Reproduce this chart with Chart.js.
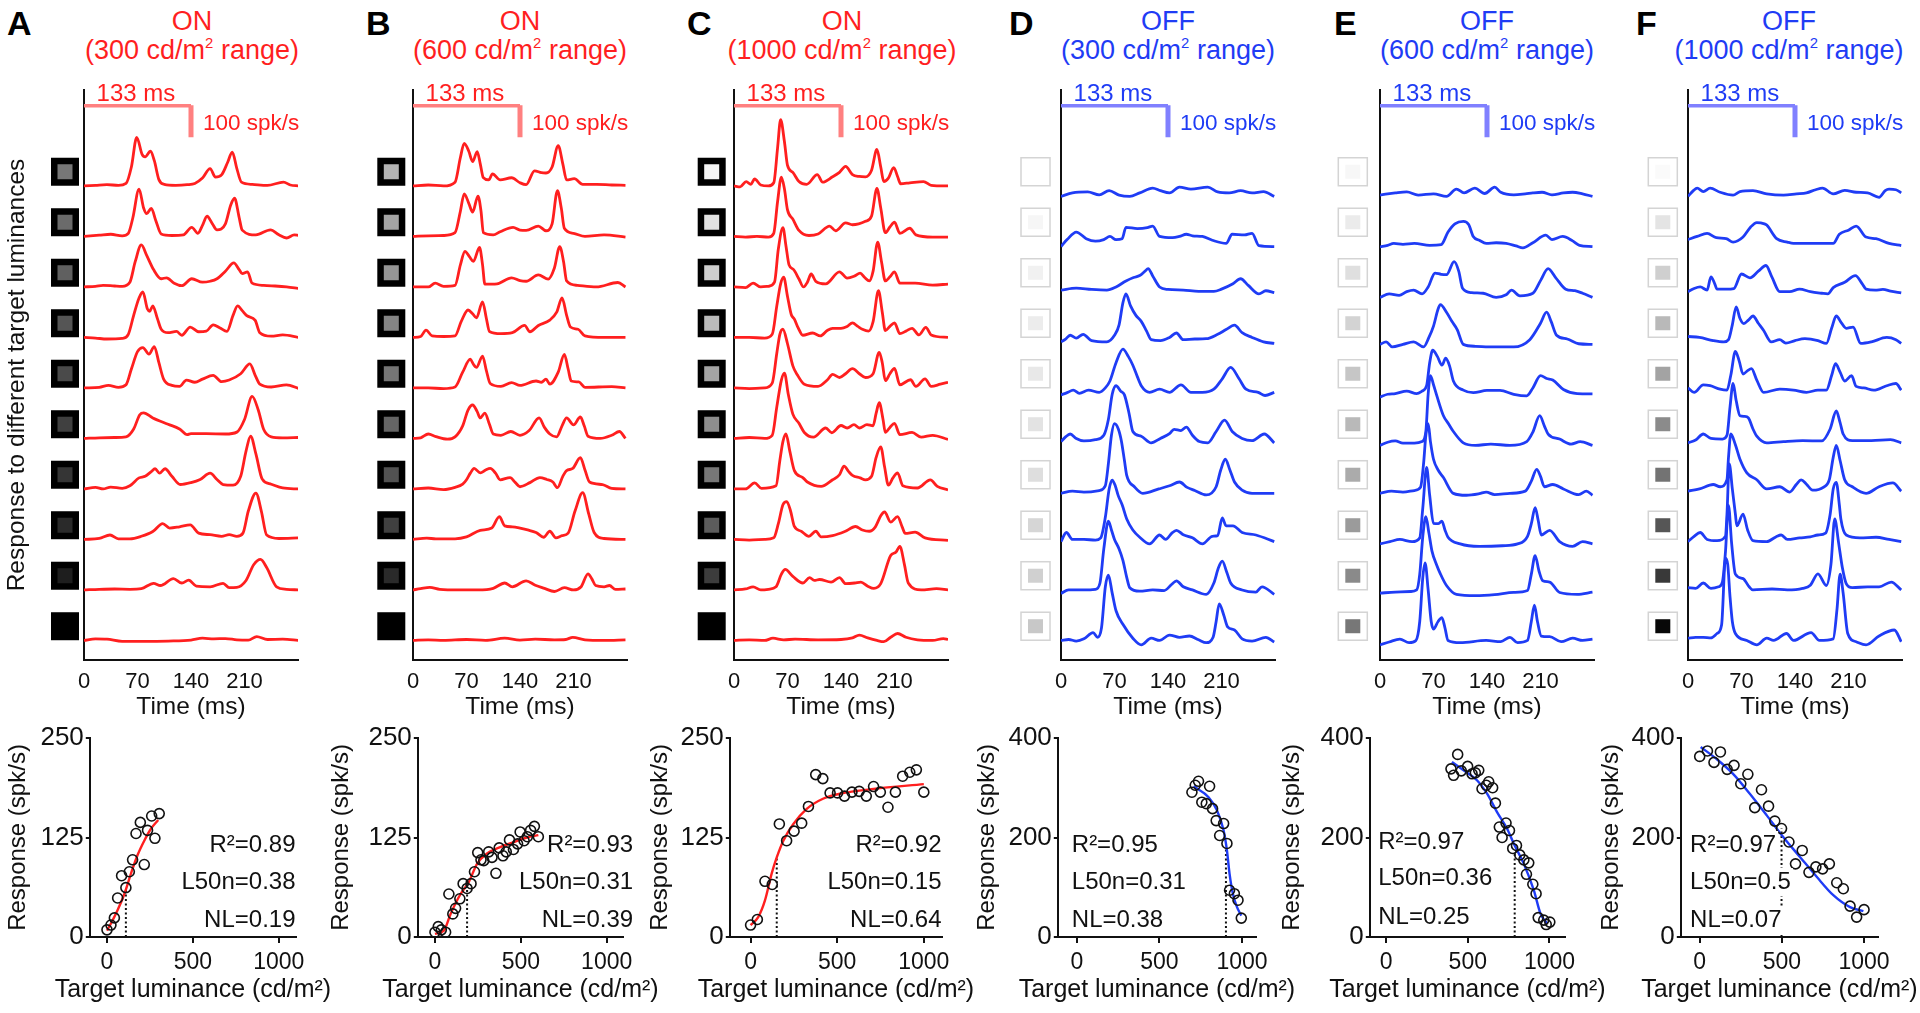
<!DOCTYPE html>
<html>
<head>
<meta charset="utf-8">
<script src="https://cdn.jsdelivr.net/npm/chart.js@4.4.1/dist/chart.umd.min.js"></script>
<style>
  body { margin: 0; background: #fff; width: 1920px; height: 1013px; overflow: hidden; position: relative;
         font-family: "Liberation Sans", Arial, sans-serif; }
  canvas { position: absolute; }
  .hd { position: absolute; white-space: nowrap; transform: translate(-50%, -50%); font-size: 27px; line-height: 32px; }
  .hd sup { font-size: 55%; vertical-align: 0; position: relative; top: -0.75em; }
  .let { position: absolute; font-weight: bold; font-size: 34px; line-height: 34px; transform: translate(0, -50%); color: #000; }
</style>
</head>
<body>
<script>
// ---------------- data ----------------
const timeTicks = [0, 70, 140, 210];
const lumTicks = [0, 500, 1000];
const onTicks = [0, 125, 250];
const offTicks = [0, 200, 400];

// PSTH traces, [time ms, spk/s], top row first
const tracesA = [
  [[0,0],[15,2],[30,4],[45,2],[55,8],[62,60],[69,154],[76,100],[80,92],[87,110],[92,80],[98,20],[105,5],[120,2],[135,4],[145,8],[155,25],[165,55],[172,28],[180,35],[188,75],[194,107],[200,55],[206,12],[220,5],[240,2],[261,12],[270,3],[281,0]],
  [[0,0],[20,4],[35,7],[50,2],[58,10],[64,60],[72,150],[78,90],[82,72],[88,89],[94,50],[101,8],[115,3],[130,5],[141,29],[149,10],[155,35],[161,64],[168,40],[174,21],[185,40],[192,100],[197,121],[203,60],[207,20],[225,5],[244,21],[255,5],[265,-5],[275,5],[281,3]],
  [[0,0],[15,2],[25,5],[40,3],[50,2],[60,15],[67,80],[75,133],[82,100],[91,55],[101,26],[108,29],[118,12],[128,4],[141,26],[155,15],[165,18],[174,26],[185,50],[196,76],[203,55],[207,42],[214,48],[220,12],[235,5],[250,3],[265,0],[281,-5]],
  [[0,0],[15,-2],[30,-5],[50,-3],[58,10],[65,70],[72,125],[77,144],[83,90],[86,83],[90,100],[96,60],[101,26],[110,15],[121,19],[128,7],[139,33],[150,18],[160,20],[169,40],[178,30],[187,19],[195,70],[201,100],[207,85],[213,69],[224,54],[230,15],[245,4],[260,8],[281,0]],
  [[0,0],[20,2],[32,8],[45,2],[55,10],[62,60],[70,115],[77,128],[85,107],[92,131],[98,80],[104,29],[115,8],[125,5],[134,25],[145,18],[155,28],[169,40],[180,20],[190,25],[205,45],[217,76],[224,40],[230,12],[245,3],[265,10],[281,-2]],
  [[0,0],[20,2],[40,3],[55,5],[65,30],[73,75],[78,81],[90,65],[110,45],[125,30],[135,12],[140,15],[160,15],[185,14],[200,20],[210,60],[220,133],[228,90],[235,29],[245,5],[260,2],[281,3]],
  [[0,0],[15,5],[25,0],[35,6],[50,2],[60,10],[72,35],[80,40],[88,55],[93,64],[99,50],[106,64],[115,40],[126,14],[140,20],[152,30],[165,50],[174,30],[182,14],[195,12],[205,40],[212,120],[218,167],[225,110],[233,32],[245,15],[260,3],[281,0]],
  [[0,0],[20,3],[34,14],[45,2],[60,2],[75,10],[90,25],[103,50],[112,36],[125,40],[139,46],[150,20],[165,15],[180,10],[190,15],[200,10],[208,20],[215,90],[225,147],[232,90],[239,14],[255,3],[281,5]],
  [[0,0],[20,2],[40,3],[60,2],[75,4],[91,21],[100,14],[117,36],[128,22],[137,31],[147,12],[165,10],[182,21],[190,7],[200,8],[212,30],[222,80],[231,97],[239,71],[252,10],[265,2],[281,0]],
  [[0,0],[15,5],[30,4],[50,-3],[80,-3],[110,-2],[140,1],[155,7],[170,5],[185,6],[200,2],[215,1],[226,12],[240,3],[260,4],[281,0]]
];
const tracesB = [
  [[0,0],[20,3],[40,0],[55,12],[62,90],[67,135],[73,110],[78,77],[84,109],[88,70],[92,26],[99,19],[104,38],[114,19],[129,26],[140,10],[148,4],[159,48],[168,42],[174,41],[182,60],[190,128],[196,70],[201,19],[211,23],[222,5],[240,5],[260,3],[278,2]],
  [[0,0],[20,2],[40,3],[55,12],[62,80],[67,135],[73,105],[78,77],[85,128],[89,80],[92,12],[105,5],[114,15],[131,29],[140,20],[148,19],[164,33],[174,18],[182,40],[189,145],[194,90],[198,26],[210,10],[225,0],[250,5],[278,-2]],
  [[0,0],[20,0],[29,12],[40,2],[55,5],[62,70],[68,113],[74,95],[79,81],[87,125],[91,70],[94,9],[110,10],[129,29],[140,20],[148,18],[164,38],[177,25],[185,60],[192,128],[197,80],[201,19],[215,5],[240,0],[268,14],[278,0]],
  [[0,0],[10,3],[17,23],[25,5],[40,3],[55,5],[63,50],[72,87],[78,75],[83,62],[91,113],[96,60],[100,19],[115,12],[130,15],[146,38],[153,18],[164,38],[179,55],[188,80],[195,125],[201,70],[206,33],[216,26],[225,5],[250,0],[278,0]],
  [[0,0],[20,0],[40,-2],[55,3],[65,50],[75,91],[79,75],[83,65],[91,101],[96,55],[101,14],[115,5],[129,17],[140,8],[161,22],[168,18],[174,28],[179,12],[190,50],[198,106],[203,60],[207,22],[217,19],[225,2],[260,4],[278,0]],
  [[0,0],[10,2],[20,14],[30,6],[45,-2],[55,5],[65,40],[72,90],[78,106],[84,85],[88,65],[94,80],[100,45],[105,14],[115,10],[128,22],[140,10],[152,25],[165,65],[172,35],[179,14],[188,5],[195,40],[201,65],[210,43],[219,68],[224,40],[229,7],[245,0],[260,10],[270,22],[278,0]],
  [[0,0],[20,3],[40,-2],[55,5],[65,15],[70,29],[75,50],[80,65],[88,51],[95,60],[101,65],[108,50],[114,29],[127,36],[134,20],[140,7],[153,20],[166,36],[175,30],[183,22],[189,4],[196,40],[201,58],[209,65],[219,99],[225,60],[231,22],[248,14],[260,2],[278,0]],
  [[0,0],[18,4],[30,2],[55,2],[70,8],[88,29],[103,36],[113,72],[120,43],[130,40],[140,36],[150,30],[161,22],[171,7],[179,26],[187,5],[195,12],[203,20],[212,90],[222,148],[230,80],[237,22],[250,3],[278,0]],
  [[0,0],[10,4],[22,8],[35,2],[60,0],[85,0],[105,5],[120,22],[130,10],[148,29],[160,15],[172,5],[185,-5],[198,7],[210,0],[220,10],[229,51],[234,35],[239,14],[250,10],[257,14],[265,2],[278,3]],
  [[0,0],[20,2],[40,0],[70,3],[95,0],[120,7],[140,1],[160,4],[185,2],[200,3],[209,10],[225,2],[250,0],[278,2]]
];
const tracesC = [
  [[0,0],[8,-3],[16,14],[22,5],[27,22],[35,3],[45,0],[52,10],[57,120],[61,210],[66,140],[70,65],[77,43],[85,14],[95,5],[109,36],[116,12],[129,29],[138,43],[146,62],[155,36],[164,30],[172,29],[180,50],[187,116],[192,60],[196,14],[202,25],[209,58],[214,30],[218,7],[230,10],[248,14],[258,2],[280,0]],
  [[0,0],[15,-2],[30,0],[45,-2],[52,10],[57,110],[62,188],[66,150],[70,84],[77,55],[85,19],[98,3],[110,8],[125,33],[133,18],[146,43],[155,37],[172,48],[180,65],[187,152],[192,90],[198,12],[204,30],[210,45],[217,10],[230,26],[238,5],[260,-2],[280,-2]],
  [[0,0],[15,-2],[25,12],[35,0],[45,2],[53,15],[58,120],[64,188],[68,130],[72,70],[78,55],[85,25],[91,0],[96,15],[101,41],[107,18],[120,10],[138,48],[148,28],[158,35],[165,44],[171,30],[177,19],[182,50],[188,142],[193,80],[198,19],[204,32],[210,48],[217,12],[237,12],[260,6],[280,9]],
  [[0,0],[20,0],[40,-2],[50,10],[56,100],[61,170],[65,191],[70,130],[75,72],[79,58],[84,30],[90,7],[103,14],[113,5],[122,22],[129,29],[140,29],[148,35],[155,46],[162,35],[168,26],[176,20],[182,50],[189,148],[194,80],[198,22],[204,35],[210,46],[217,12],[225,20],[233,29],[242,8],[251,32],[258,8],[280,0]],
  [[0,0],[20,-2],[40,0],[50,15],[56,110],[60,170],[64,186],[70,140],[77,70],[83,41],[92,12],[110,5],[122,25],[129,43],[138,33],[146,45],[155,61],[164,45],[172,33],[182,45],[190,113],[194,80],[198,23],[204,45],[210,62],[217,10],[231,26],[238,5],[250,29],[258,5],[270,12],[280,18]],
  [[0,0],[20,3],[40,0],[50,10],[56,100],[62,185],[66,207],[71,140],[77,77],[85,48],[92,19],[104,4],[120,33],[128,18],[140,41],[148,33],[157,44],[164,33],[174,44],[182,40],[186,80],[190,113],[195,60],[198,19],[204,35],[210,48],[217,12],[233,19],[245,4],[260,10],[280,-3]],
  [[0,0],[15,0],[27,19],[36,2],[55,10],[60,90],[64,150],[68,174],[73,120],[79,58],[90,36],[96,22],[114,8],[129,29],[138,45],[144,72],[150,55],[155,43],[165,35],[172,29],[180,40],[186,100],[192,133],[197,70],[202,12],[208,35],[214,51],[221,10],[240,3],[257,29],[266,8],[280,-3]],
  [[0,0],[20,-2],[40,0],[52,5],[58,50],[64,110],[69,120],[74,90],[79,41],[88,26],[98,10],[107,26],[114,8],[129,12],[145,25],[159,41],[168,30],[177,26],[185,40],[192,75],[197,87],[205,55],[214,72],[220,40],[224,19],[237,23],[250,5],[280,-3]],
  [[0,0],[15,3],[25,10],[35,0],[45,2],[55,10],[62,50],[67,65],[77,43],[90,22],[99,39],[105,30],[112,33],[127,25],[138,39],[146,20],[158,22],[166,25],[175,12],[183,5],[192,20],[205,109],[212,120],[217,138],[223,80],[228,22],[245,0],[265,4],[280,0]],
  [[0,0],[20,2],[40,0],[51,7],[65,2],[80,4],[110,2],[140,3],[155,8],[164,17],[175,8],[187,0],[196,-4],[205,10],[214,22],[225,10],[240,2],[260,0],[274,6],[280,3]]
];
const tracesD = [
  [[0,-33],[15,-22],[35,-19],[50,-28],[63,-15],[76,-29],[90,-33],[103,-22],[120,-7],[130,-15],[142,-22],[155,-4],[170,-10],[192,-4],[205,-19],[220,-22],[235,-15],[250,-22],[265,-18],[279,-33]],
  [[0,-32],[8,-10],[20,14],[33,-7],[45,-15],[56,-10],[64,0],[72,-10],[80,-7],[85,29],[100,25],[113,28],[120,33],[129,0],[146,-4],[155,0],[164,7],[172,2],[185,0],[198,-12],[216,-22],[224,7],[240,5],[250,10],[259,-29],[279,-32]],
  [[0,-10],[20,-4],[40,-8],[60,-10],[72,0],[85,19],[95,30],[103,36],[110,50],[114,58],[120,35],[129,0],[140,-8],[160,-10],[180,-14],[200,-14],[210,-7],[225,10],[235,26],[245,5],[259,-22],[268,-12],[279,-18]],
  [[0,-14],[6,-5],[12,7],[20,-2],[29,10],[40,-10],[60,-14],[70,7],[76,40],[81,110],[85,138],[91,100],[98,70],[105,51],[112,20],[118,-7],[130,-10],[142,0],[151,14],[160,-7],[175,-5],[190,-4],[205,10],[216,25],[227,39],[237,15],[250,0],[265,-14],[279,-19]],
  [[0,-22],[8,-15],[16,-7],[24,-17],[36,-7],[50,-14],[58,0],[64,22],[72,80],[81,123],[88,100],[94,72],[100,35],[105,7],[116,-14],[129,-4],[142,-14],[157,10],[170,-14],[185,-14],[200,-4],[211,29],[222,65],[233,29],[242,-4],[258,-14],[267,-24],[279,-14]],
  [[0,-10],[6,5],[12,14],[20,0],[30,-8],[45,-4],[56,10],[62,60],[67,140],[72,167],[78,150],[83,138],[89,80],[94,22],[105,7],[118,-14],[130,0],[142,15],[148,29],[157,25],[164,36],[172,10],[181,-10],[192,-14],[203,22],[214,58],[224,22],[237,0],[250,-7],[266,14],[279,-14]],
  [[0,-14],[15,-7],[30,-10],[50,-5],[58,10],[62,80],[66,170],[70,207],[75,190],[79,152],[83,90],[86,43],[96,7],[107,-14],[128,0],[142,10],[155,22],[165,5],[175,-5],[190,-19],[203,7],[209,60],[215,94],[221,60],[227,22],[237,-4],[250,-14],[279,-14]],
  [[0,-7],[7,22],[15,0],[30,0],[45,-2],[52,5],[58,70],[63,160],[67,188],[71,170],[75,138],[80,110],[86,65],[94,30],[103,7],[116,-14],[129,14],[137,0],[145,20],[151,29],[160,15],[172,5],[185,-14],[198,10],[205,12],[211,68],[216,43],[225,43],[237,22],[255,14],[279,-7]],
  [[0,-11],[10,0],[30,0],[45,2],[51,22],[56,130],[62,218],[66,190],[70,160],[76,130],[81,94],[86,40],[90,7],[103,-4],[120,0],[135,-2],[145,18],[151,29],[160,10],[172,0],[190,-14],[200,22],[206,70],[211,91],[217,55],[222,22],[237,0],[255,-7],[263,10],[279,-14]],
  [[0,0],[10,3],[20,-2],[30,5],[42,25],[48,10],[53,40],[58,170],[62,207],[67,150],[72,94],[81,51],[94,7],[105,-14],[118,7],[129,0],[142,17],[155,10],[168,14],[180,2],[190,-7],[199,10],[203,60],[207,116],[213,80],[218,43],[227,33],[237,5],[250,-2],[268,10],[279,-5]]
];
const tracesE = [
  [[0,-29],[10,-25],[20,-22],[35,-19],[50,-29],[70,-25],[87,-33],[100,-10],[110,-22],[124,-7],[137,-24],[150,-4],[158,-20],[175,-28],[190,-25],[200,-22],[212,-20],[225,-28],[240,-22],[252,-20],[265,-25],[278,-33]],
  [[0,-33],[10,-28],[18,-22],[30,-25],[45,-22],[65,-28],[80,-26],[89,14],[98,40],[109,48],[116,38],[122,0],[130,-12],[139,-22],[152,-20],[165,-22],[178,-30],[187,-36],[200,-20],[217,4],[225,-10],[239,0],[252,-14],[261,-28],[278,-32]],
  [[0,-33],[12,-22],[25,-27],[35,-15],[44,-10],[55,-22],[63,0],[72,44],[80,40],[87,39],[97,80],[103,50],[108,-4],[120,-18],[135,-20],[152,-33],[165,-25],[172,-10],[183,-28],[200,-20],[210,20],[220,58],[230,29],[243,-7],[255,-12],[265,-20],[278,-33]],
  [[0,-22],[8,-14],[16,-30],[30,-22],[44,-14],[57,-30],[64,0],[70,36],[76,90],[79,104],[87,80],[94,51],[101,25],[109,-22],[125,-28],[150,-30],[175,-30],[196,-7],[210,45],[218,80],[224,50],[231,7],[245,-5],[260,-20],[278,-22]],
  [[0,-29],[10,-20],[20,-18],[35,-10],[48,-18],[55,-10],[61,7],[65,80],[69,120],[75,100],[81,72],[86,94],[91,70],[96,22],[109,-7],[122,-15],[140,-8],[157,-8],[175,-20],[192,-25],[200,0],[210,39],[218,30],[226,25],[240,-5],[258,-18],[278,-19]],
  [[0,-22],[10,-12],[20,-8],[30,-15],[45,-15],[55,-10],[60,22],[63,140],[66,199],[70,170],[74,138],[83,72],[90,45],[96,22],[109,-14],[125,-22],[145,-18],[170,-22],[192,-10],[200,20],[209,72],[215,40],[220,14],[235,-2],[250,-18],[262,-10],[278,-22]],
  [[0,-14],[15,-7],[30,-10],[45,-5],[53,5],[57,80],[60,170],[63,207],[66,150],[70,94],[76,60],[83,36],[96,-14],[113,-20],[130,-15],[139,-10],[150,-18],[170,-14],[190,-7],[198,25],[205,62],[210,40],[215,7],[226,14],[240,0],[260,-18],[270,-7],[278,-20]],
  [[0,-14],[13,-7],[26,0],[42,-7],[52,5],[56,100],[61,228],[65,140],[70,51],[76,50],[81,58],[85,30],[89,7],[105,-14],[130,-22],[160,-20],[180,-14],[193,10],[198,50],[203,101],[207,60],[211,14],[222,29],[235,-7],[252,-22],[265,-7],[278,-14]],
  [[0,-10],[20,-7],[40,-5],[48,0],[52,50],[56,170],[60,232],[64,180],[68,123],[74,80],[79,51],[87,14],[100,-14],[125,-18],[150,-15],[175,-8],[193,-2],[198,50],[203,109],[208,60],[213,29],[222,25],[235,-8],[258,-14],[278,-7]],
  [[0,-14],[12,-5],[26,4],[38,-7],[47,0],[52,60],[56,200],[59,246],[63,160],[67,60],[70,36],[76,60],[81,72],[85,40],[89,0],[105,-7],[139,0],[158,-4],[170,10],[180,-7],[193,0],[198,60],[202,112],[206,60],[211,14],[222,12],[237,-4],[252,7],[265,0],[278,4]]
];
const tracesF = [
  [[0,-33],[7,-15],[12,-7],[20,-18],[29,-7],[42,-20],[59,-29],[68,-18],[85,-15],[103,-25],[125,-29],[142,-25],[155,-22],[167,-12],[176,-7],[190,-25],[205,-14],[220,-20],[235,-22],[250,-36],[258,-15],[263,-10],[272,-12],[279,-22]],
  [[0,-10],[12,0],[25,10],[37,-4],[50,-7],[59,-18],[72,-2],[82,30],[90,44],[100,40],[103,36],[116,-7],[130,-18],[138,-22],[165,-22],[190,-22],[198,7],[210,20],[220,33],[233,-2],[246,-7],[263,-22],[279,-29]],
  [[0,-15],[8,-5],[16,0],[25,-10],[30,32],[35,10],[38,-7],[50,-7],[60,-5],[70,41],[81,29],[92,50],[102,68],[110,30],[120,-15],[133,-15],[146,-7],[160,-15],[175,-20],[183,-22],[190,-2],[205,15],[219,36],[228,10],[233,-7],[245,-10],[255,-8],[265,-13],[279,-19]],
  [[0,3],[15,0],[33,-10],[47,-14],[53,-7],[58,40],[63,97],[68,60],[73,44],[79,55],[85,68],[92,45],[99,22],[109,-14],[120,-7],[128,-18],[140,-10],[153,-4],[170,-10],[181,-19],[188,30],[194,68],[201,45],[207,29],[216,33],[226,-19],[240,-14],[260,0],[272,-7],[279,-19]],
  [[0,0],[8,-14],[20,10],[29,7],[42,-4],[51,-7],[56,40],[62,116],[67,85],[72,44],[78,55],[83,61],[90,25],[99,-14],[120,-4],[138,-7],[155,-14],[170,-7],[181,-7],[188,40],[193,77],[199,50],[205,22],[214,39],[220,5],[230,0],[243,-7],[260,7],[272,14],[279,-7]],
  [[0,-14],[10,-5],[20,14],[30,0],[45,-2],[51,10],[55,100],[59,174],[63,120],[68,72],[74,70],[79,65],[85,30],[90,7],[103,-14],[125,-10],[150,-7],[175,-8],[186,30],[194,87],[199,50],[203,14],[215,-7],[240,-7],[265,-4],[279,-14]],
  [[0,-7],[15,0],[33,14],[42,7],[51,29],[53,100],[56,174],[62,140],[68,94],[77,51],[90,29],[103,0],[120,7],[133,-10],[142,15],[148,29],[155,15],[163,-4],[177,5],[185,30],[190,100],[194,138],[199,90],[205,29],[215,7],[233,-14],[250,7],[268,19],[279,-7]],
  [[0,-7],[8,10],[16,22],[25,0],[38,-4],[49,10],[51,80],[54,239],[58,160],[62,80],[64,43],[72,80],[78,30],[85,-4],[103,-7],[115,8],[122,14],[130,0],[146,5],[160,8],[170,14],[180,20],[186,80],[190,160],[194,181],[198,110],[200,65],[207,14],[225,5],[246,7],[263,0],[279,-7]],
  [[0,7],[10,5],[20,22],[30,5],[40,10],[45,25],[49,120],[53,268],[57,150],[62,50],[72,36],[80,10],[85,0],[110,3],[130,0],[150,5],[160,15],[170,51],[181,14],[187,80],[192,225],[197,150],[202,70],[207,20],[215,7],[235,10],[250,10],[266,25],[279,0]],
  [[0,7],[10,10],[20,10],[30,8],[38,22],[44,50],[49,261],[52,240],[55,138],[58,60],[62,22],[77,0],[90,-14],[103,7],[112,0],[129,22],[138,0],[161,25],[172,0],[190,5],[195,100],[199,210],[203,150],[209,22],[220,-4],[233,-14],[250,14],[270,33],[279,-4]]
];

// target luminance swatches (inner grey), top row first
const sqA = ['#777777','#6b6b6b','#606060','#555555','#4a4a4a','#404040','#353535','#2a2a2a','#1e1e1e','#000000'];
const sqB = ['#b4b4b4','#a4a4a4','#959595','#858585','#757575','#656565','#525252','#404040','#2a2a2a','#000000'];
const sqC = ['#f5f5f5','#e2e2e2','#cecece','#bababa','#a4a4a4','#8e8e8e','#777777','#5c5c5c','#3c3c3c','#000000'];
const sqD = ['#ffffff','#f6f6f6','#f1f1f1','#ececec','#e8e8e8','#e3e3e3','#dedede','#d6d6d6','#d0d0d0','#c8c8c8'];
const sqE = ['#f7f7f7','#ebebeb','#dfdfdf','#d3d3d3','#c6c6c6','#b9b9b9','#ababab','#9b9b9b','#8a8a8a','#777777'];
const sqF = ['#fafafa','#e4e4e4','#cfcfcf','#b9b9b9','#a3a3a3','#8b8b8b','#737373','#565656','#393939','#080808'];

// response vs target luminance
const lumA = [0,23,43,62,85,110,130,149,169,194,217,236,260,279,304];
const respA = [9,15,24,49,77,62,82,97,130,144,91,134,152,124,155];
const fitLumA = [0,23,62,101,140,178,217,256,298];
const fitRespA = [8,17,34,54,80,103,121,136,147];

const lumB = [0,19,37,62,81,104,120,145,164,187,210,230,249,268,284,313,332,355,374,396,415,434,457,481,496,519,538,557,579,602];
const respB = [6,13,9,6,54,29,36,48,67,61,67,82,106,97,96,107,100,80,112,102,107,122,110,117,132,121,126,134,139,126];
const fitLumB = [0,52,91,149,197,245,303,380,457,535,602];
const fitRespB = [4,8,29,54,69,92,105,113,119,125,128];

const lumC = [0,39,83,125,166,208,251,295,334,376,417,459,502,542,585,627,668,710,749,793,836,878,919,957,1000];
const respC = [15,22,70,66,142,121,133,143,164,204,199,181,181,177,182,183,177,189,182,163,182,202,207,210,182];
const fitLumC = [0,44,83,122,151,189,247,324,421,517,710,1000];
const fitRespC = [15,25,46,80,100,121,142,161,174,180,186,192];

const lumD = [697,717,737,804,757,784,822,844,889,865,909,925,954,976,996];
const respD = [291,305,313,303,271,268,258,234,228,204,188,94,87,74,38];
const fitLumD = [707,798,848,889,909,925,945,970,996];
const fitRespD = [303,281,255,214,174,127,87,60,43];

const lumE = [397,438,413,460,499,526,546,567,587,613,628,652,669,693,710,734,755,775,798,818,843,873,859,898,918,931,965,980,1002];
const respE = [338,367,325,334,343,328,330,335,298,305,312,300,269,221,200,229,214,178,184,165,155,149,126,106,87,39,34,25,30];
const fitLumE = [403,474,556,618,679,740,781,843,904,945,986];
const fitRespE = [352,335,315,288,251,218,188,147,94,47,27];

const lumF = [0,47,87,126,167,209,250,293,335,376,419,457,498,543,583,624,665,707,748,789,834,874,915,955,1000];
const respF = [363,374,351,372,337,345,308,327,260,296,263,233,218,191,147,174,130,141,137,147,109,97,62,40,55];
const fitLumF = [6,102,203,305,407,508,610,712,813,915,996];
const fitRespF = [382,358,328,288,245,201,161,121,84,60,52];

// L50 marker [luminance, response]
const l50A = [110, 61], l50B = [187, 61], l50C = [151, 100];
const l50D = [903, 178], l50E = [787, 171], l50F = [498, 218];

const statsA = ['R²=0.89', 'L50n=0.38', 'NL=0.19'];
const statsB = ['R²=0.93', 'L50n=0.31', 'NL=0.39'];
const statsC = ['R²=0.92', 'L50n=0.15', 'NL=0.64'];
const statsD = ['R²=0.95', 'L50n=0.31', 'NL=0.38'];
const statsE = ['R²=0.97', 'L50n=0.36', 'NL=0.25'];
const statsF = ['R²=0.97', 'L50n=0.5', 'NL=0.07'];

// ---------------- layout / style ----------------
const RED = '#ff1f1f', RED_L = '#ff8080', BLUE = '#1f3cf5', BLUE_L = '#8080ff', INK = '#111';
const ROW = 160;            // vertical offset between stacked traces (spk/s)
const FONT = '"Liberation Sans", Arial, Helvetica, sans-serif';
Chart.defaults.font.family = FONT;
Chart.defaults.color = INK;

const panels = [
  { id: 'A', on: true, range: '300', letterX: 7, titleX: 192, topX: 84, sqDx: -33,
    traces: tracesA, sq: sqA, bx: 89.3, br: 295, xMin: -100, xMax: 1100, yOff: 71,
    lum: lumA, resp: respA, fitL: fitLumA, fitR: fitRespA, l50: l50A, stats: statsA, statX: 295, statAlign: 'right', statY: [845, 882, 920] },
  { id: 'B', on: true, range: '600', letterX: 366, titleX: 520, topX: 412.7, sqDx: -35.7,
    traces: tracesB, sq: sqB, bx: 417.7, br: 623.3, xMin: -100, xMax: 1095, yOff: 76,
    lum: lumB, resp: respB, fitL: fitLumB, fitR: fitRespB, l50: l50B, stats: statsB, statX: 633, statAlign: 'right', statY: [845, 882, 920] },
  { id: 'C', on: true, range: '1000', letterX: 687, titleX: 842, topX: 734.3, sqDx: -36.3,
    traces: tracesC, sq: sqC, bx: 730, br: 941.7, xMin: -120, xMax: 1105, yOff: 69,
    lum: lumC, resp: respC, fitL: fitLumC, fitR: fitRespC, l50: l50C, stats: statsC, statX: 941.7, statAlign: 'right', statY: [845, 882, 920] },
  { id: 'D', on: false, range: '300', letterX: 1009, titleX: 1168, topX: 1061, sqDx: -40,
    traces: tracesD, sq: sqD, bx: 1057.7, br: 1256, xMin: -115, xMax: 1085, yOff: 70,
    lum: lumD, resp: respD, fitL: fitLumD, fitR: fitRespD, l50: l50D, stats: statsD, statX: 1071.7, statAlign: 'left', statY: [845, 882, 920] },
  { id: 'E', on: false, range: '600', letterX: 1334, titleX: 1487, topX: 1379.7, sqDx: -41.7,
    traces: tracesE, sq: sqE, bx: 1369.3, br: 1564, xMin: -100, xMax: 1095, yOff: 77,
    lum: lumE, resp: respE, fitL: fitLumE, fitR: fitRespE, l50: l50E, stats: statsE, statX: 1377.7, statAlign: 'left', statY: [842, 878, 917] },
  { id: 'F', on: false, range: '1000', letterX: 1636, titleX: 1789, topX: 1687.7, sqDx: -39.7,
    traces: tracesF, sq: sqF, bx: 1680.7, br: 1878.3, xMin: -115, xMax: 1085, yOff: 69,
    lum: lumF, resp: respF, fitL: fitLumF, fitR: fitRespF, l50: l50F, stats: statsF, statX: 1690, statAlign: 'left', statY: [845, 882, 920], statBg: true }
];

function makeCanvas(left, top, w, h) {
  const c = document.createElement('canvas');
  c.width = Math.round(w); c.height = Math.round(h);
  c.style.left = left + 'px'; c.style.top = top + 'px';
  c.style.width = Math.round(w) + 'px'; c.style.height = Math.round(h) + 'px';
  document.body.appendChild(c);
  return c;
}

function addText(cls, html, x, y, color) {
  const d = document.createElement('div');
  d.className = cls; d.innerHTML = html;
  d.style.left = x + 'px'; d.style.top = y + 'px'; d.style.color = color;
  document.body.appendChild(d);
}

// ---------------- top panels: stacked PSTHs ----------------
function topChart(p) {
  const col = p.on ? RED : BLUE, light = p.on ? RED_L : BLUE_L;
  const yW = 84, plotW = 214, padR = 40;
  const cv = makeCanvas(p.topX - yW, 0, yW + plotW + padR, 725);

  const datasets = p.traces.map((tr, i) => ({
    data: tr.map(([t, v]) => ({ x: t, y: v + (9 - i) * ROW })),
    borderColor: col, borderWidth: 2.8, pointRadius: 0,
    tension: 0.4, cubicInterpolationMode: 'monotone', fill: false, borderJoinStyle: 'round'
  }));
  // 133 ms / 100 spk/s scale bar
  datasets.push({ data: [{ x: 0, y: 1694 }, { x: 140, y: 1694 }], borderColor: light, borderWidth: 3.5, pointRadius: 0, borderCapStyle: 'butt' });
  datasets.push({ data: [{ x: 140, y: 1696 }, { x: 140, y: 1594 }], borderColor: light, borderWidth: 5, pointRadius: 0, borderCapStyle: 'butt' });

  const stim = {
    id: 'stim' + p.id,
    afterDraw(chart) {
      const { ctx, scales: { x, y }, chartArea } = chart;
      ctx.save();
      p.sq.forEach((g, i) => {
        const cy = y.getPixelForValue((9 - i) * ROW + 45);
        const left = chartArea.left + p.sqDx;
        if (p.on) {
          ctx.fillStyle = '#000';
          ctx.fillRect(left, cy - 14, 28, 28);
          ctx.fillStyle = g;
          ctx.fillRect(left + 6.5, cy - 7.5, 15, 15);
        } else {
          ctx.fillStyle = '#fff';
          ctx.fillRect(left, cy - 14, 29, 28);
          ctx.strokeStyle = '#d4d4d4'; ctx.lineWidth = 1.5;
          ctx.strokeRect(left, cy - 14, 29, 28);
          ctx.fillStyle = g;
          ctx.fillRect(left + 7, cy - 7, 15, 14);
        }
      });
      ctx.fillStyle = col;
      ctx.textBaseline = 'middle';
      ctx.textAlign = 'center';
      ctx.font = '24px ' + FONT;
      ctx.fillText('133 ms', x.getPixelForValue(68), y.getPixelForValue(1731));
      ctx.textAlign = 'left';
      ctx.font = '22.5px ' + FONT;
      ctx.fillText('100 spk/s', x.getPixelForValue(140) + 12, y.getPixelForValue(1636));
      ctx.restore();
    }
  };

  new Chart(cv, {
    type: 'line',
    data: { datasets },
    options: {
      responsive: false, animation: false, events: [],
      layout: { padding: { top: 90, right: padR, left: 0, bottom: 0 } },
      plugins: { legend: { display: false }, tooltip: { enabled: false } },
      scales: {
        x: {
          type: 'linear', min: 0, max: 280,
          afterBuildTicks: s => { s.ticks = timeTicks.map(v => ({ value: v })); },
          ticks: { font: { size: 22 }, color: INK, padding: 9, maxRotation: 0, autoSkip: false, callback: v => String(v) },
          grid: { display: false, drawTicks: false },
          border: { color: INK, width: 2 },
          title: { display: true, text: 'Time (ms)', font: { size: 24.5 }, color: INK, padding: { top: 0, bottom: 3 } },
          afterFit: s => { s.height = 65; }
        },
        y: {
          type: 'linear', min: -62, max: 1744,
          ticks: { display: false },
          grid: { display: false, drawTicks: false },
          border: { color: INK, width: 2 },
          title: { display: p.id === 'A', text: 'Response to different target luminances', font: { size: 24.5 }, color: INK, padding: { top: 3, bottom: 0 } },
          afterFit: s => { s.width = yW; }
        }
      }
    },
    plugins: [stim]
  });
}

// ---------------- bottom panels: response vs luminance ----------------
function bottomChart(p) {
  const col = p.on ? RED : BLUE;
  const yW = p.yOff + 17.8, plotW = p.br - p.bx, padR = 60;
  const L = p.bx - yW, T = 718;
  const cv = makeCanvas(L, T, yW + plotW + padR, 290);

  const pts = p.lum.map((v, i) => ({ x: v, y: p.resp[i] }));
  const fit = p.fitL.map((v, i) => ({ x: v, y: p.fitR[i] }));

  const extra = {
    id: 'extra' + p.id,
    afterDraw(chart) {
      const { ctx, chartArea } = chart;
      ctx.save();
      ctx.fillStyle = INK;
      ctx.font = '25px ' + FONT;
      ctx.textBaseline = 'middle';
      ctx.textAlign = 'center';
      ctx.fillText('Target luminance (cd/m²)', (chartArea.left + chartArea.right) / 2, 990 - T);
      ctx.font = '24px ' + FONT;
      ctx.textAlign = p.statAlign;
      p.stats.forEach((s, i) => {
        const x = p.statX - L, y = p.statY[i] - T;
        if (p.statBg) {
          const w = ctx.measureText(s).width;
          ctx.fillStyle = '#fff';
          ctx.fillRect(p.statAlign === 'left' ? x - 2 : x - w - 2, y - 14, w + 4, 28);
          ctx.fillStyle = INK;
        }
        ctx.fillText(s, x, y);
      });
      ctx.restore();
    }
  };

  new Chart(cv, {
    type: 'scatter',
    data: {
      datasets: [
        { data: pts, pointRadius: 5, pointBorderWidth: 1.6, pointBorderColor: INK, pointBackgroundColor: 'rgba(255,255,255,0)', clip: false },
        { data: fit, showLine: true, borderColor: col, borderWidth: 2.4, pointRadius: 0, tension: 0.4, cubicInterpolationMode: 'monotone', clip: false },
        { data: [{ x: p.l50[0], y: 0 }, { x: p.l50[0], y: p.l50[1] }], showLine: true, borderColor: INK, borderWidth: 2, borderDash: [2, 2.5], pointRadius: 0 }
      ]
    },
    options: {
      responsive: false, animation: false, events: [],
      layout: { padding: { top: 20, right: padR, left: 0, bottom: 0 } },
      plugins: { legend: { display: false }, tooltip: { enabled: false } },
      scales: {
        x: {
          type: 'linear', min: p.xMin, max: p.xMax,
          afterBuildTicks: s => { s.ticks = lumTicks.map(v => ({ value: v })); },
          ticks: { font: { size: 23 }, color: INK, padding: 6, maxRotation: 0, autoSkip: false, callback: v => String(v) },
          grid: { drawOnChartArea: false, tickLength: 6, color: INK, lineWidth: 2 },
          border: { color: INK, width: 2 },
          afterFit: s => { s.height = 71; }
        },
        y: {
          type: 'linear', min: 0, max: p.on ? 250 : 400,
          afterBuildTicks: s => { s.ticks = (p.on ? onTicks : offTicks).map(v => ({ value: v })); },
          ticks: { font: { size: 26 }, color: INK, padding: 2, callback: v => String(v) },
          grid: { drawOnChartArea: false, tickLength: 4, color: INK, lineWidth: 2 },
          border: { color: INK, width: 2 },
          title: { display: true, text: 'Response (spk/s)', font: { size: 24 }, color: INK, padding: { top: 3, bottom: 0 } },
          afterFit: s => { s.width = yW; }
        }
      }
    },
    plugins: [extra]
  });
}

panels.forEach(p => {
  const col = p.on ? RED : BLUE;
  addText('let', p.id, p.letterX, 23, '#000');
  addText('hd', p.on ? 'ON' : 'OFF', p.titleX, 21, col);
  addText('hd', '(' + p.range + ' cd/m<sup>2</sup> range)', p.titleX, 52, col);
  topChart(p);
  bottomChart(p);
});
</script>
</body>
</html>
